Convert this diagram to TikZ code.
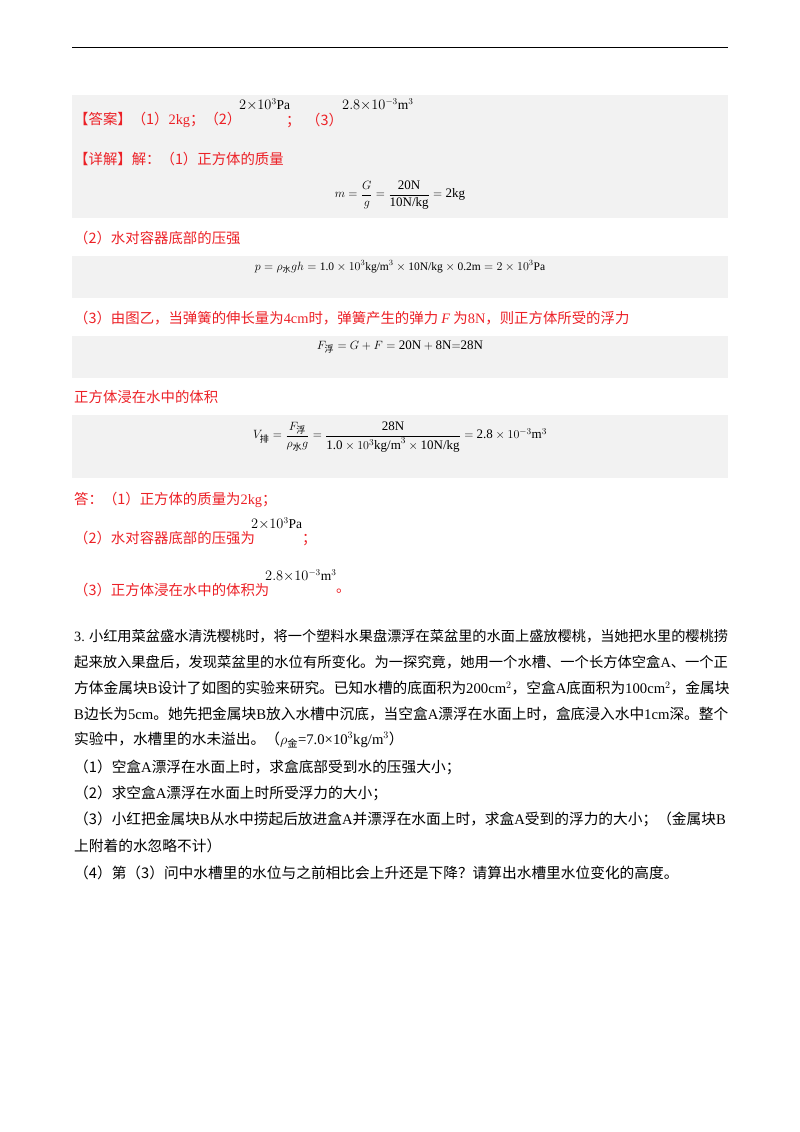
\documentclass[tikz,border=0pt]{standalone}
\usepackage{amsmath}
\usepackage{fontspec}
\setmainfont{Noto Sans CJK SC}
\newfontfamily\lat{Liberation Serif}
\newfontfamily\cjkf{Noto Sans CJK SC}
\definecolor{ared}{RGB}{236,32,38}
\definecolor{boxg}{RGB}{242,242,242}
\tikzset{
 ln/.style={anchor=west,inner sep=0pt,font=\fontsize{14.4}{17}\selectfont},
 pl/.style={anchor=west,inner sep=0pt,font=\fontsize{14.7}{17}\selectfont},
 rl/.style={ln,text=ared},
 eq/.style={anchor=center,inner sep=0pt,font=\fontsize{13}{15}\selectfont},
 sm/.style={anchor=west,inner sep=0pt,font=\fontsize{13.5}{15}\selectfont}
}
\newcommand{\ux}[1]{\text{\lat #1}}
\newcommand{\cs}[1]{\text{\cjkf #1}}
\begin{document}
\begin{tikzpicture}[x=1pt,y=-1pt]
\useasboundingbox (0,0) rectangle (800,1132);
\draw[line width=1pt] (72,48) -- (728,48);
\fill[boxg] (72,95) rectangle (728,218);
\fill[boxg] (72,256) rectangle (728,298);
\fill[boxg] (72,336) rectangle (728,378);
\fill[boxg] (72,415) rectangle (728,478);

\node[rl] (ans) at (74,120) {【答案】（1）{\lat 2kg}；（2）};
\node[sm] (a2) at (239,105) {$2{\times}10^{3}\ux{Pa}$};
\node[rl] (a2s) at (286,122) {；};
\node[rl] (a2t) at (306,120) {（3）};
\node[sm] (a3) at (342,105) {$2.8{\times}10^{-3}\ux{m}^{3}$};
\node[rl] (det) at (74,159) {【详解】解：（1）正方体的质量};
\node[eq] (e1) at (400,195) {$m=\dfrac{G}{g}=\dfrac{\ux{20N}}{\ux{10N/kg}}=\ux{2kg}$};
\node[rl] (p2) at (74,238) {（2）水对容器底部的压强};
\node[eq] (e2) at (400,267) {\fontsize{11.5}{13}\selectfont$p=\rho_{\cs{水}}gh=\ux{1.0}\times10^{3}\ux{kg/m}^{3}\times\ux{10N/kg}\times\ux{0.2m}=2\times10^{3}\ux{Pa}$};
\node[rl] (p3) at (74,318) {（3）由图乙，当弹簧的伸长量为{\lat 4cm}时，弹簧产生的弹力 {\lat\itshape F} 为{\lat 8N}，则正方体所受的浮力};
\node[eq] (e3) at (400,347) {$F_{\cs{浮}}=G+F=\ux{20N}+\ux{8N}{=}\ux{28N}$};
\node[rl] (p4) at (74,397) {正方体浸在水中的体积};
\node[eq] (e4) at (400,437) {$V_{\cs{排}}=\dfrac{F_{\cs{浮}}}{\rho_{\cs{水}}g}=\dfrac{\ux{28N}}{\ux{1.0}\times10^{3}\ux{kg/m}^{3}\times\ux{10N/kg}}=\ux{2.8}\times10^{-3}\ux{m}^{3}$};

\node[rl] (d1) at (74,500) {答：（1）正方体的质量为{\lat 2kg}；};
\node[rl] (d2) at (74,538) {（2）水对容器底部的压强为};
\node[sm] (d2v) at (251,524) {$2{\times}10^{3}\ux{Pa}$};
\node[rl] (d2s) at (302,540) {；};
\node[rl] (d3) at (74,590) {（3）正方体浸在水中的体积为};
\node[sm] (d3v) at (265,576) {$2.8{\times}10^{-3}\ux{m}^{3}$};
\node[rl] (d3s) at (336,591) {。};

\node[pl,font=\fontsize{14.2}{17}\selectfont] (q1) at (74,636) {{\lat 3.} 小红用菜盆盛水清洗樱桃时，将一个塑料水果盘漂浮在菜盆里的水面上盛放樱桃，当她把水里的樱桃捞};
\node[pl,font=\fontsize{14.3}{17}\selectfont] (q2) at (74,662) {起来放入果盘后，发现菜盆里的水位有所变化。为一探究竟，她用一个水槽、一个长方体空盒{\lat A}、一个正};
\node[pl] (q3) at (74,688) {方体金属块{\lat B}设计了如图的实验来研究。已知水槽的底面积为{\lat 200cm$^2$}，空盒{\lat A}底面积为{\lat 100cm$^2$}，金属块};
\node[pl] (q4) at (74,714) {{\lat B}边长为{\lat 5cm}。她先把金属块{\lat B}放入水槽中沉底，当空盒{\lat A}漂浮在水面上时，盒底浸入水中{\lat 1cm}深。整个};
\node[pl] (q5) at (74,740) {实验中，水槽里的水未溢出。（$\rho_{\cs{金}}${\lat =7.0×10$^3$kg/m$^3$}）};
\node[pl] (q6) at (74,767) {（1）空盒{\lat A}漂浮在水面上时，求盒底部受到水的压强大小；};
\node[pl] (q7) at (74,793) {（2）求空盒{\lat A}漂浮在水面上时所受浮力的大小；};
\node[pl] (q8) at (74,819) {（3）小红把金属块{\lat B}从水中捞起后放进盒{\lat A}并漂浮在水面上时，求盒{\lat A}受到的浮力的大小；（金属块{\lat B}};
\node[pl] (q9) at (74,846) {上附着的水忽略不计）};
\node[pl] (q10) at (74,873) {（4）第（3）问中水槽里的水位与之前相比会上升还是下降？请算出水槽里水位变化的高度。};
\end{tikzpicture}
\end{document}
